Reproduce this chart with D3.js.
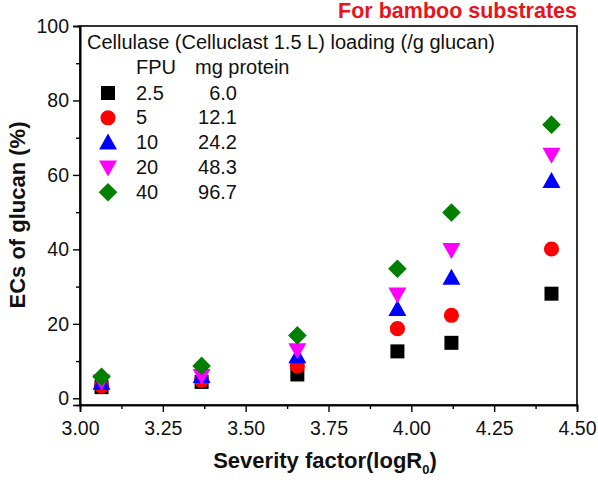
<!DOCTYPE html>
<html><head><meta charset="utf-8">
<script src="https://cdn.jsdelivr.net/npm/d3@7"></script>
<style>body{margin:0;background:#fff}svg{display:block;font-family:"Liberation Sans",Arial,sans-serif}</style>
</head><body><svg id="c" width="598" height="487"></svg>
<script>
const severity = [3.065, 3.367, 3.656, 3.958, 4.121, 4.423];
const fpu = ["2.5", "5", "10", "20", "40"];
const protein = ["6.0", "12.1", "24.2", "48.3", "96.7"];
const ec_2_5 = [3.0, 4.4, 6.4, 12.6, 14.9, 28.1];
const ec_5 = [3.3, 4.8, 8.7, 18.7, 22.3, 40.1];
const ec_10 = [4.2, 6.0, 11.3, 24.0, 32.4, 58.4];
const ec_20 = [4.5, 6.0, 12.9, 27.9, 39.8, 65.4];
const ec_40 = [5.8, 8.7, 16.9, 34.8, 49.9, 73.5];
const xTicks = [3.00, 3.25, 3.50, 3.75, 4.00, 4.25, 4.50];
const yTicks = [0, 20, 40, 60, 80, 100];

const seriesVals = [ec_2_5, ec_5, ec_10, ec_20, ec_40];
const colors = ["#000000", "#ff0000", "#0000ff", "#ff00ff", "#007f00"];
const shapes = ["square", "circle", "tri", "itri", "diamond"];

const svg = d3.select("#c");
const L = 80, R = 577, T = 26, B = 405;
const x = d3.scaleLinear().domain([3.0, 4.5]).range([L, R]);
const y = d3.scaleLinear().domain([-1.8, 100]).range([B, T]);

function sym(shape) {
  if (shape === "square") return d3.symbol(d3.symbolSquare, 196)();
  if (shape === "circle") return d3.symbol(d3.symbolCircle, 180)();
  if (shape === "diamond") return "M0,-9.3L9.3,0L0,9.3L-9.3,0Z";
  if (shape === "tri") return "M0,-9L9,7L-9,7Z";
  return "M0,9L9,-7L-9,-7Z";
}

// frame
svg.append("rect").attr("x", L).attr("y", T).attr("width", R - L).attr("height", B - T)
  .attr("fill", "none").attr("stroke", "#000").attr("stroke-width", 1.6);

// axes
const xa = svg.append("g").attr("transform", `translate(0,${B})`)
  .call(d3.axisBottom(x).tickValues(xTicks).tickFormat(d3.format(".2f")).tickSize(7).tickPadding(9));
const xm = svg.append("g").attr("transform", `translate(0,${B})`)
  .call(d3.axisBottom(x).tickValues(d3.range(3.125, 4.5, 0.25)).tickFormat("").tickSize(4));
const ya = svg.append("g").attr("transform", `translate(${L},0)`)
  .call(d3.axisLeft(y).tickValues(yTicks).tickSize(7).tickPadding(4));
const ym = svg.append("g").attr("transform", `translate(${L},0)`)
  .call(d3.axisLeft(y).tickValues([10, 30, 50, 70, 90]).tickFormat("").tickSize(4));
[xa, xm, ya, ym].forEach(g => {
  g.select(".domain").attr("stroke-width", 1.6);
  g.selectAll(".tick line").attr("stroke-width", 1.4);
  g.selectAll("text").attr("font-size", 19.5).attr("font-family", "Liberation Sans, Arial, sans-serif").attr("fill", "#111");
});

// points
seriesVals.forEach((vals, i) => {
  svg.append("g").selectAll("path").data(vals).join("path")
    .attr("d", sym(shapes[i]))
    .attr("transform", (d, j) => `translate(${x(severity[j])},${y(d)})`)
    .attr("fill", colors[i]);
});

// legend
const lg = svg.append("g").attr("font-size", 20).attr("fill", "#111");
lg.append("text").attr("x", 87).attr("y", 49).text("Cellulase (Celluclast 1.5 L) loading (/g glucan)");
lg.append("text").attr("x", 136).attr("y", 74).text("FPU");
lg.append("text").attr("x", 195).attr("y", 74).text("mg protein");
fpu.forEach((f, i) => {
  const cy = 93 + i * 24.8;
  lg.append("path").attr("d", sym(shapes[i])).attr("transform", `translate(108,${cy})`).attr("fill", colors[i]);
  lg.append("text").attr("x", 136).attr("y", cy + 6.5).text(f);
  lg.append("text").attr("x", 237).attr("y", cy + 6.5).attr("text-anchor", "end").text(protein[i]);
});

// titles
svg.append("text").attr("x", 577).attr("y", 18).attr("text-anchor", "end")
  .attr("font-size", 21.5).attr("font-weight", "bold").attr("fill", "#e8141c").text("For bamboo substrates");
const xt = svg.append("text").attr("x", 325).attr("y", 468).attr("text-anchor", "middle")
  .attr("font-size", 22).attr("font-weight", "bold").attr("fill", "#111");
xt.append("tspan").text("Severity factor(logR");
xt.append("tspan").attr("font-size", 13).attr("dy", 6).text("0");
xt.append("tspan").attr("dy", -6).text(")");
svg.append("text").attr("transform", "translate(25,215) rotate(-90)").attr("text-anchor", "middle")
  .attr("font-size", 22).attr("font-weight", "bold").attr("fill", "#111").text("ECs of glucan (%)");
</script></body></html>
